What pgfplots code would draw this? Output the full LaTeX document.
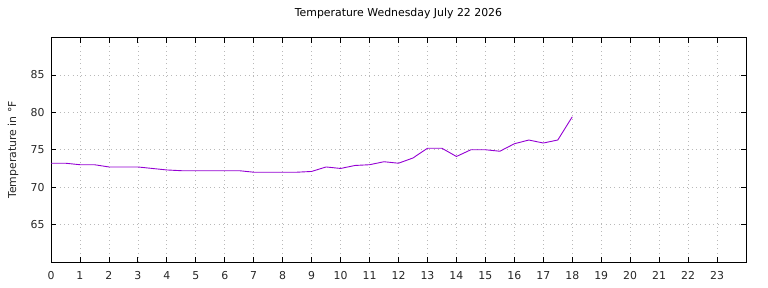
\documentclass[border=0pt]{standalone}
\usepackage{fontspec}
\setmainfont{DejaVu Sans}
\usepackage{pgfplots}
\pgfplotsset{compat=1.18}
\definecolor{dviolet}{HTML}{9400D3}
\begin{document}
\begin{tikzpicture}
\useasboundingbox (0,0) rectangle (768bp,288bp);
\begin{axis}[
  at={(51bp,26bp)}, anchor=south west,
  scale only axis, width=695bp, height=224.5bp,
  xmin=0, xmax=24, ymin=60, ymax=90,
  xtick={0,1,...,23}, ytick={65,70,75,80,85},
  tick align=inside, major tick length=5bp,
  tick style={black, line width=0.8bp},
  axis line style={black, line width=0.9bp},
  grid=major,
  major grid style={dash pattern=on 0.7bp off 3.6bp, color=gray!55, line width=0.7bp},
  /pgf/number format/assume math mode=true,
  ticklabel style={font=\fontsize{10.9bp}{12bp}\selectfont, text=black!85},
  xticklabel style={yshift=-6bp},
  yticklabel style={xshift=-3bp},
  title={Temperature Wednesday July 22 2026},
  title style={font=\fontsize{10.9bp}{12bp}\selectfont, at={(rel axis cs:0.5,1)}, anchor=center, yshift=18.5bp},
  ylabel={Temperature in °F},
  ylabel style={font=\fontsize{10.9bp}{12bp}\selectfont, at={(rel axis cs:0,0.5)}, anchor=center, yshift=38bp, text=black!85},
]
\addplot[dviolet, line width=0.9bp, mark=none] coordinates {
(0,73.2) (0.5,73.2) (1,73.0) (1.5,73.0) (2,72.7) (2.5,72.7) (3,72.7) (3.5,72.5)
(4,72.3) (4.5,72.2) (5,72.2) (5.5,72.2) (6,72.2) (6.5,72.2) (7,72.0) (7.5,72.0)
(8,72.0) (8.5,72.0) (9,72.1) (9.5,72.7) (10,72.5) (10.5,72.9) (11,73.0) (11.5,73.4)
(12,73.2) (12.5,73.9) (13,75.2) (13.5,75.2) (14,74.1) (14.5,75.0) (15,75.0) (15.5,74.8)
(16,75.8) (16.5,76.3) (17,75.9) (17.5,76.3) (18,79.4)
};
\end{axis}
\end{tikzpicture}
\end{document}
